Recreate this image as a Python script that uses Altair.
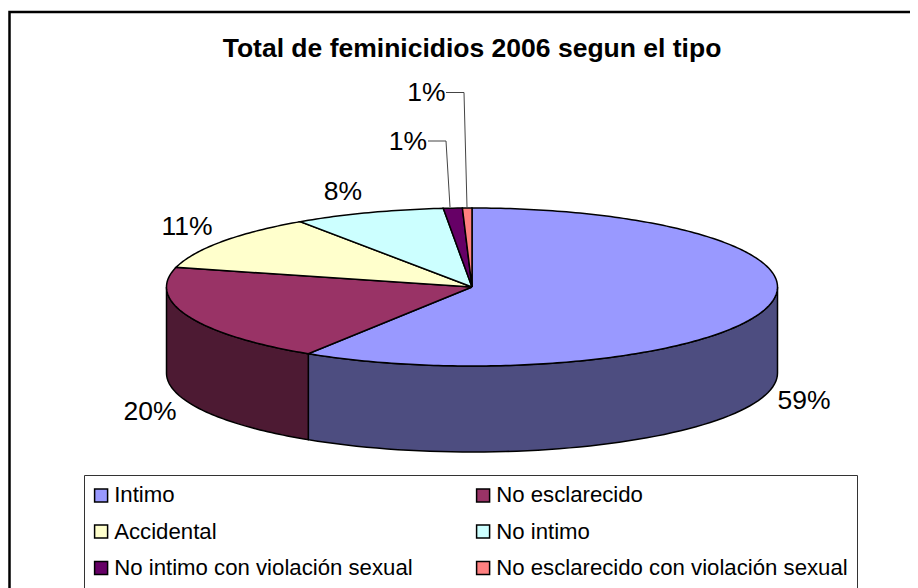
import math
import altair as alt
import pandas as pd

title_text = "Total de feminicidios 2006 segun el tipo"
tipos = ["Intimo", "No esclarecido", "Accidental", "No intimo",
         "No intimo con violación sexual", "No esclarecido con violación sexual"]
shares = [59.0, 20.0, 11.5, 8.0, 1.0, 0.5]
labels = ["59%", "20%", "11%", "8%", "1%", "1%"]
top_colors = ["#9999ff", "#993366", "#ffffcc", "#ccffff", "#660066", "#ff8080"]
side_colors = ["#4d4d80", "#4d1a33"]

label_x = [804, 150, 187, 343, 408, 426.5]
label_y = [401, 412, 227, 192, 142, 93]

CX, CY, RX, RY, DEPTH = 472, 287, 305.5, 79, 86
W, H = 902, 580


def pt(t, dy=0):
    return CX + RX * math.sin(t), CY - RY * math.cos(t) + dy


top_rows, side_rows = [], []
start = 0.0
for k, (name, share) in enumerate(zip(tipos, shares)):
    end = start + share
    t0, t1 = start / 100 * 2 * math.pi, end / 100 * 2 * math.pi
    n = max(2, int(share * 4))
    path = [(CX, CY)] + [pt(t0 + (t1 - t0) * j / n) for j in range(n + 1)] + [(CX, CY)]
    for i, (x, y) in enumerate(path):
        top_rows.append({"tipo": name, "i": i, "x": x, "y": y})
    a0, a1 = max(t0, math.pi / 2), min(t1, 1.5 * math.pi)
    if a1 > a0 and k < len(side_colors):
        n = 60
        arc = [a0 + (a1 - a0) * j / n for j in range(n + 1)]
        path = [pt(a) for a in arc] + [pt(a, DEPTH) for a in reversed(arc)]
        path.append(path[0])
        for i, (x, y) in enumerate(path):
            side_rows.append({"tipo": name, "c": side_colors[k], "i": i, "x": x, "y": y})
    start = end

xs = alt.Scale(domain=[8, 8 + W], nice=False, zero=False)
ys = alt.Scale(domain=[8 + H, 8], nice=False, zero=False)
X = alt.X("x:Q", scale=xs, axis=None)
Y = alt.Y("y:Q", scale=ys, axis=None)

top_df = pd.DataFrame(top_rows)
side_df = pd.DataFrame(side_rows)

sides = alt.Chart(side_df).mark_line(stroke="black", strokeWidth=1.5).encode(
    x=X, y=Y, order="i:Q", detail="tipo:N",
    fill=alt.Fill("c:N", scale=None),
)

legend = alt.Legend(
    title=None, orient="none", legendX=84 - 8, legendY=475 - 8, columns=2, direction="horizontal",
    symbolType="square", symbolSize=169, symbolStrokeColor="black", symbolStrokeWidth=1.5,
    symbolOpacity=1, symbolOffset=-3,
    labelFont="Liberation Sans", labelFontSize=22.2, labelColor="black", labelOffset=2, labelLimit=500,
    rowPadding=13.5, columnPadding=60, padding=9, strokeColor="#333333", fillColor="white",
    gridAlign="each",
)
color_scale = alt.Scale(domain=tipos, range=top_colors)
tops = alt.Chart(top_df).mark_line(stroke="black", strokeWidth=1.5).encode(
    x=X, y=Y, order="i:Q", detail="tipo:N",
    fill=alt.Fill("tipo:N", scale=color_scale, sort=tipos, legend=None),
)
legend_layer = alt.Chart(pd.DataFrame({"tipo": tipos})).mark_square(size=0, opacity=1, filled=True).encode(
    fill=alt.Fill("tipo:N", scale=color_scale, sort=tipos, legend=legend),
)

frame_df = pd.DataFrame({
    "x": [9.5, 9.5, 8 + W], "y": [8 + H, 12, 12], "i": [0, 1, 2],
})
frame = alt.Chart(frame_df).mark_line(color="black", strokeWidth=2.5).encode(x=X, y=Y, order="i:Q")

leader_df = pd.DataFrame({
    "g": ["a"] * 3 + ["b"] * 3,
    "i": [0, 1, 2] * 2,
    "x": [446, 464, 467, 428, 446, 450],
    "y": [92.5, 92.5, 207, 141, 141, 207],
})
leaders = alt.Chart(leader_df).mark_line(color="#444444", strokeWidth=1).encode(
    x=X, y=Y, order="i:Q", detail="g:N")

label_df = pd.DataFrame({"t": labels, "x": label_x, "y": label_y})
texts = alt.Chart(label_df).mark_text(
    font="Liberation Sans", fontSize=26.5, color="black", align="center", baseline="middle"
).encode(x=X, y=Y, text="t:N")

title_df = pd.DataFrame({"t": [title_text], "x": [472], "y": [49]})
title = alt.Chart(title_df).mark_text(
    font="Liberation Sans", fontSize=26.5, fontWeight="bold", color="black", align="center", baseline="middle"
).encode(x=X, y=Y, text="t:N")

chart = alt.layer(frame, sides, tops, leaders, texts, title, legend_layer).resolve_scale(
    fill="independent"
).properties(
    width=W, height=H, padding=0, background="white",
    autosize=alt.AutoSizeParams(type="none", contains="padding"),
).configure_view(stroke=None)

chart.save("out.html", embed_options={"renderer": "svg", "actions": False})
